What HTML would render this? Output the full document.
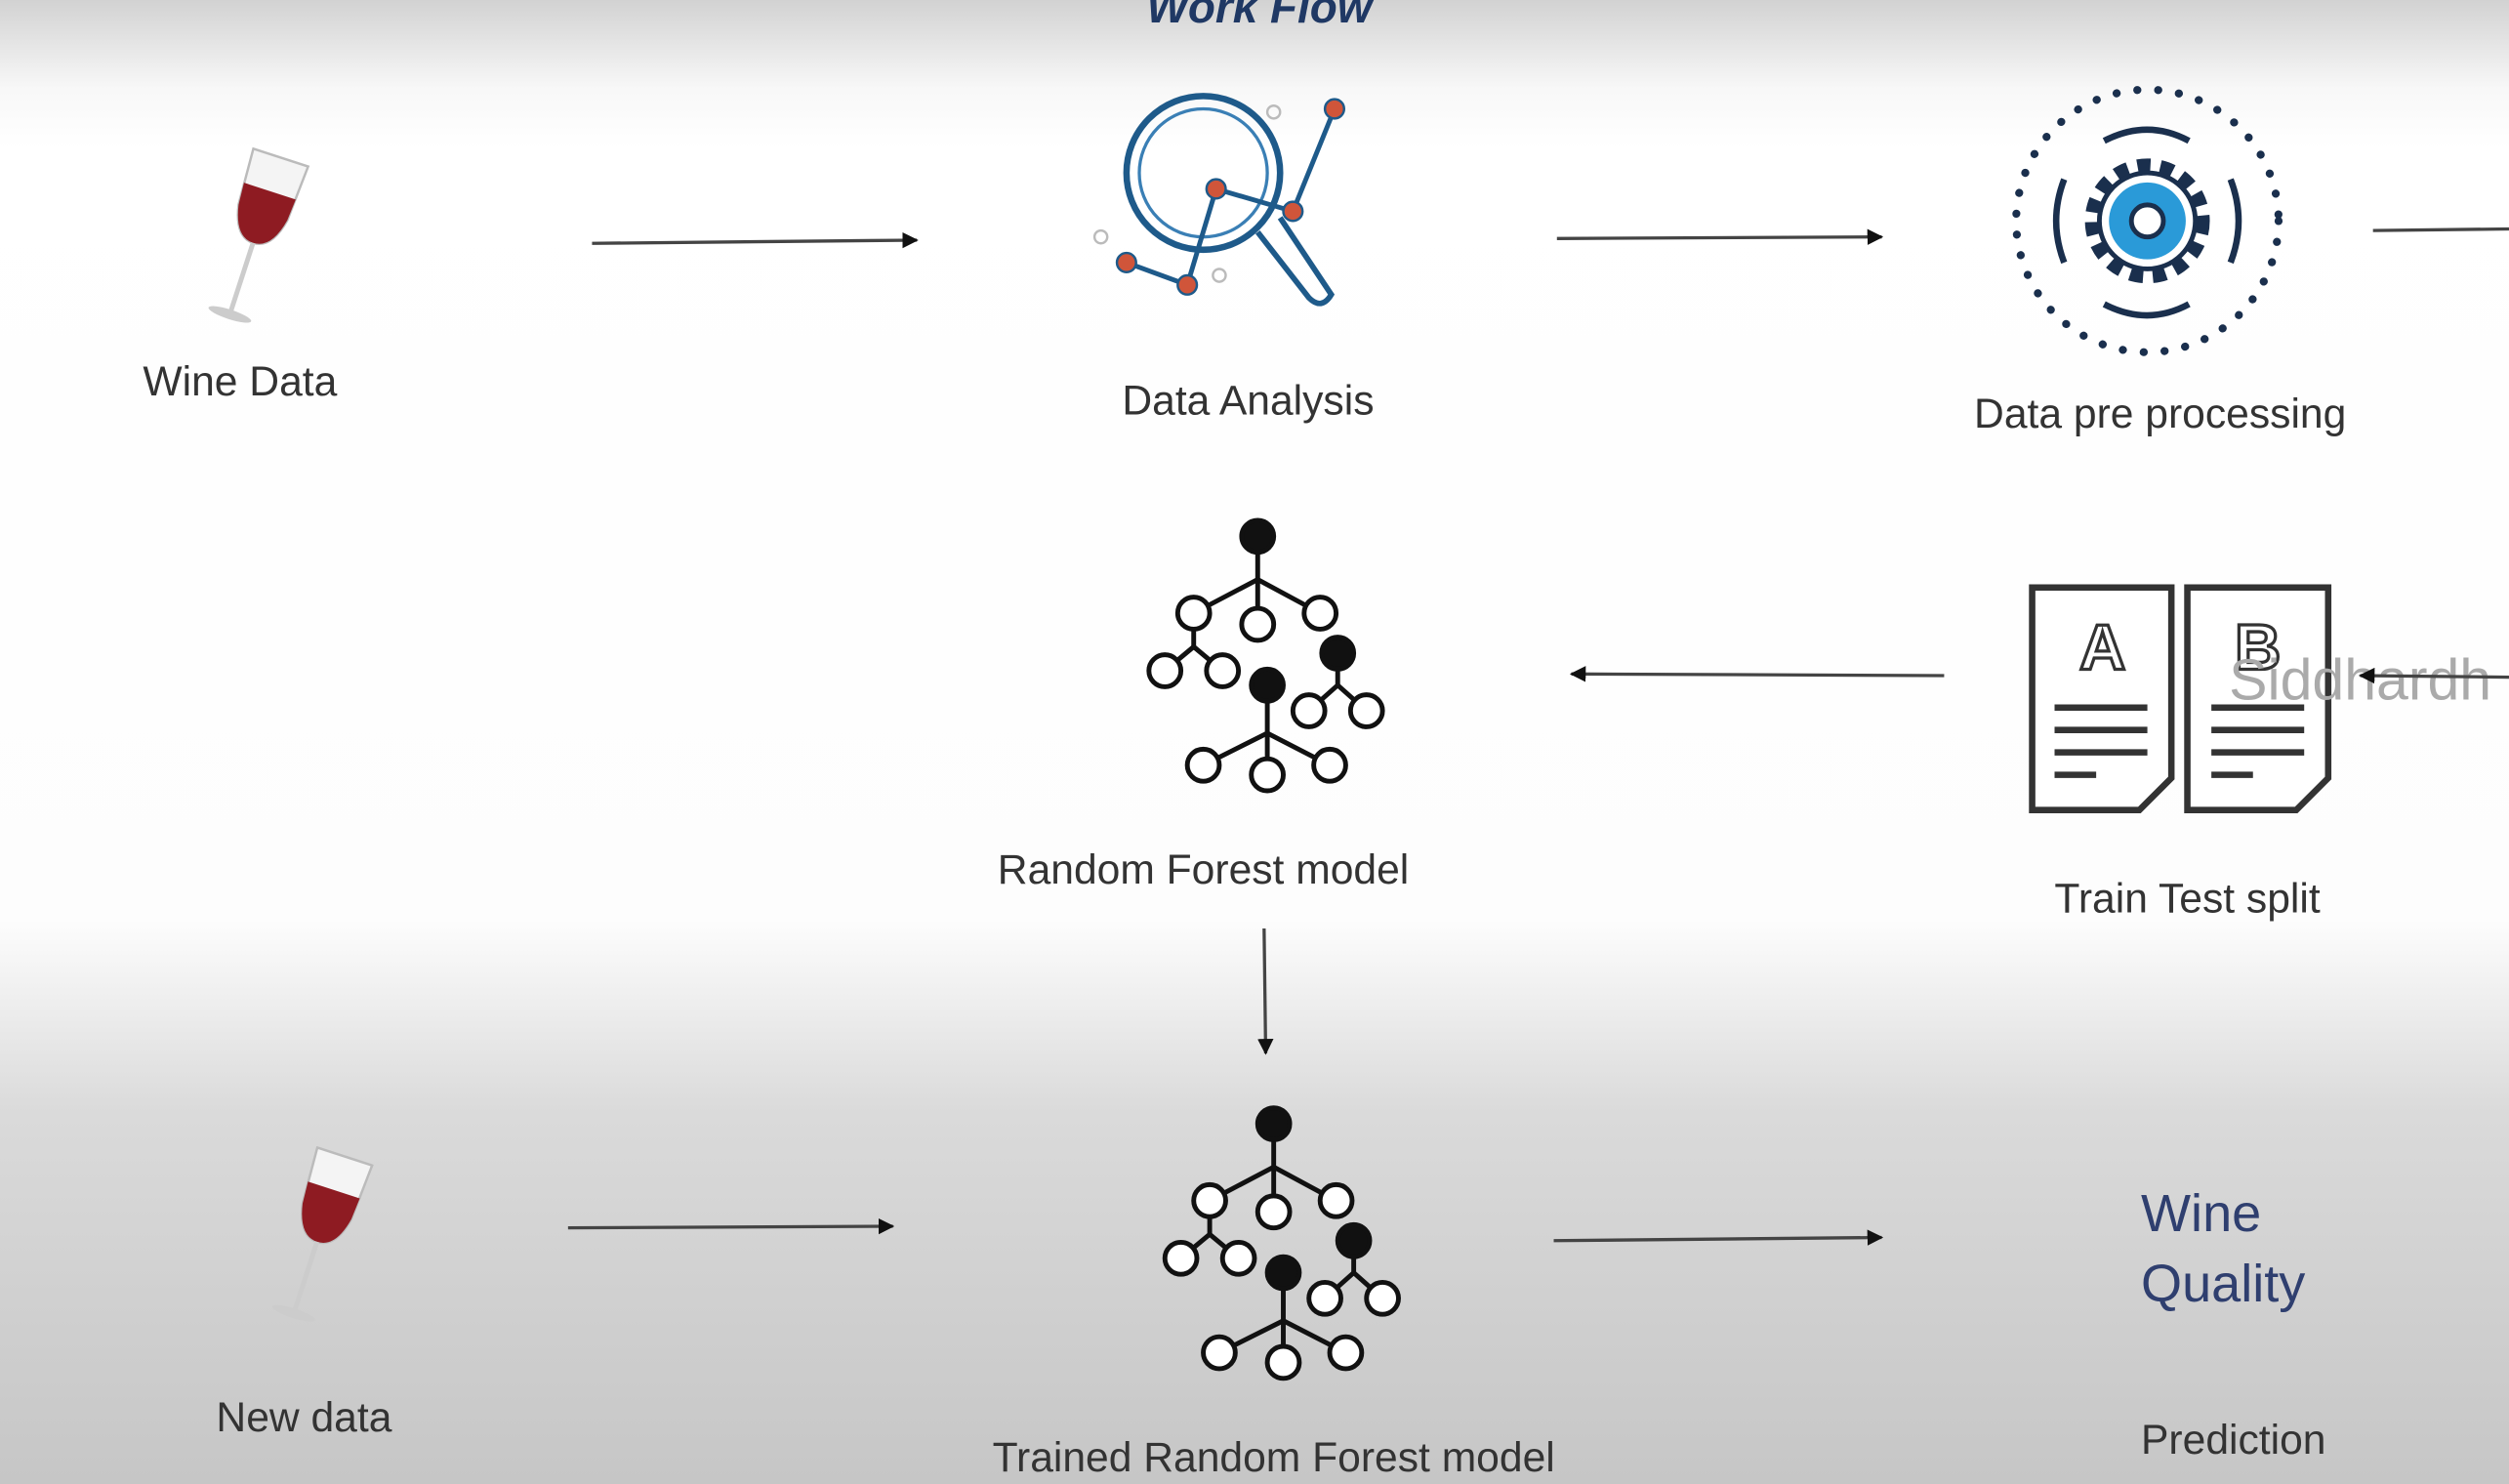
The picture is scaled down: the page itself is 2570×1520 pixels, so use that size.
<!DOCTYPE html>
<html><head><meta charset="utf-8"><style>
html,body{margin:0;padding:0;width:2570px;height:1520px;overflow:hidden}
svg{display:block}
text{font-family:"Liberation Sans",sans-serif}
</style></head><body>
<svg width="2570" height="1520" viewBox="0 0 1568 927" preserveAspectRatio="none" xmlns="http://www.w3.org/2000/svg">
<defs>
<linearGradient id="bg" x1="0" y1="0" x2="0" y2="1">
<stop offset="0" stop-color="#d2d2d2"/>
<stop offset="0.06" stop-color="#f8f8f8"/>
<stop offset="0.1" stop-color="#ffffff"/>
<stop offset="0.62" stop-color="#fdfdfd"/>
<stop offset="0.75" stop-color="#dadada"/>
<stop offset="1" stop-color="#c6c6c6"/>
</linearGradient>
<marker id="ah" viewBox="0 0 10 10" refX="9" refY="5" markerWidth="5" markerHeight="5" orient="auto"><path d="M0,0 L10,5 L0,10 z" fill="#111"/></marker>
<g id="tree" stroke="#111" stroke-width="3" fill="#fff">
<line x1="0" y1="0" x2="0" y2="27"/><line x1="0" y1="27" x2="-40" y2="48"/><line x1="0" y1="27" x2="0" y2="55"/><line x1="0" y1="27" x2="39" y2="48"/>
<line x1="-40" y1="48" x2="-40" y2="69"/><line x1="-40" y1="69" x2="-58" y2="84"/><line x1="-40" y1="69" x2="-22" y2="84"/>
<line x1="50" y1="73" x2="50" y2="93"/><line x1="50" y1="93" x2="32" y2="109"/><line x1="50" y1="93" x2="68" y2="109"/>
<line x1="6" y1="93" x2="6" y2="123"/><line x1="6" y1="123" x2="-34" y2="143"/><line x1="6" y1="123" x2="6" y2="149"/><line x1="6" y1="123" x2="45" y2="143"/>
<circle cx="0" cy="0" r="10" fill="#111"/>
<circle cx="-40" cy="48" r="10"/><circle cx="0" cy="55" r="10"/><circle cx="39" cy="48" r="10"/>
<circle cx="-58" cy="84" r="10"/><circle cx="-22" cy="84" r="10"/>
<circle cx="50" cy="73" r="10" fill="#111"/><circle cx="32" cy="109" r="10"/><circle cx="68" cy="109" r="10"/>
<circle cx="6" cy="93" r="10" fill="#111"/><circle cx="-34" cy="143" r="10"/><circle cx="6" cy="149" r="10"/><circle cx="45" cy="143" r="10"/>
</g>
<g id="glass">
<g transform="rotate(18)">
<path d="M-18,-50 L18,-50 L16,-14 Q12,6 0,6 Q-12,6 -16,-14 Z" fill="#f4f4f4" stroke="#bbb" stroke-width="1.5"/>
<path d="M-17,-28 L17,-28 L16,-14 Q12,6 0,6 Q-12,6 -16,-14 Z" fill="#8e1b22"/>
<line x1="0" y1="6" x2="0" y2="52" stroke="#ccc" stroke-width="3"/>
<ellipse cx="0" cy="53" rx="14" ry="3" fill="#ccc"/>
</g>
</g>
</defs>
<rect x="0" y="0" width="1568" height="927" fill="url(#bg)"/>
<text x="787" y="14" text-anchor="middle" font-size="28" font-weight="bold" font-style="italic" fill="#1f3864">Work Flow</text>

<use href="#glass" x="160" y="146"/>
<text x="150" y="247" text-anchor="middle" font-size="26" fill="#333">Wine Data</text>
<line x1="370" y1="152" x2="573" y2="150" stroke="#444" stroke-width="2" marker-end="url(#ah)"/>

<g fill="none" stroke="#1e5a8a" stroke-width="4">
<circle cx="752" cy="108" r="48"/><circle cx="752" cy="108" r="40" stroke-width="2" stroke="#3a7fb5"/>
<path d="M786,145 L818,186 Q826,194 832,184 L800,136" stroke-width="3.5"/>
</g>
<g stroke="#1e5a8a" stroke-width="3">
<line x1="704" y1="164" x2="742" y2="178"/><line x1="742" y1="178" x2="760" y2="118"/><line x1="760" y1="118" x2="808" y2="132"/><line x1="808" y1="132" x2="834" y2="68"/>
</g>
<g fill="#d0553a" stroke="#1e5a8a" stroke-width="1.5"><circle cx="704" cy="164" r="6"/><circle cx="742" cy="178" r="6"/><circle cx="760" cy="118" r="6"/><circle cx="808" cy="132" r="6"/><circle cx="834" cy="68" r="6"/></g>
<g fill="none" stroke="#bbb" stroke-width="1.5"><circle cx="796" cy="70" r="4"/><circle cx="688" cy="148" r="4"/><circle cx="762" cy="172" r="4"/></g>
<text x="780" y="259" text-anchor="middle" font-size="26" fill="#333">Data Analysis</text>
<line x1="973" y1="149" x2="1176" y2="148" stroke="#444" stroke-width="2" marker-end="url(#ah)"/>

<circle cx="1342" cy="138" r="82" fill="none" stroke="#1a2f4d" stroke-width="5" stroke-dasharray="0.1 13" stroke-linecap="round"/>
<circle cx="1342" cy="138" r="34" fill="none" stroke="#1a2f4d" stroke-width="10" stroke-dasharray="8 6"/>
<circle cx="1342" cy="138" r="30" fill="#fff" stroke="#1a2f4d" stroke-width="3"/>
<circle cx="1342" cy="138" r="24" fill="#2a9ad8"/>
<circle cx="1342" cy="138" r="10" fill="#fff" stroke="#1a2f4d" stroke-width="3"/>
<g fill="none" stroke="#1a2f4d" stroke-width="4">
<path d="M1315,88 Q1342,74 1368,88"/><path d="M1315,190 Q1342,204 1368,190"/>
<path d="M1290,112 Q1280,138 1290,164"/><path d="M1394,112 Q1404,138 1394,164"/>
</g>
<text x="1350" y="267" text-anchor="middle" font-size="26" fill="#333">Data pre processing</text>
<line x1="1483" y1="144" x2="1568" y2="143" stroke="#444" stroke-width="2"/>

<use href="#tree" x="786" y="335"/>
<text x="752" y="552" text-anchor="middle" font-size="26" fill="#333">Random Forest model</text>
<line x1="1215" y1="422" x2="982" y2="421" stroke="#444" stroke-width="2" marker-end="url(#ah)"/>

<g fill="#fff" stroke="#333" stroke-width="4">
<path d="M1270,367 L1357,367 L1357,486 L1337,506 L1270,506 Z"/>
<path d="M1367,367 L1455,367 L1455,486 L1435,506 L1367,506 Z"/>
</g>
<g stroke="#333" stroke-width="4">
<line x1="1284" y1="442" x2="1342" y2="442"/><line x1="1284" y1="456" x2="1342" y2="456"/><line x1="1284" y1="470" x2="1342" y2="470"/><line x1="1284" y1="484" x2="1310" y2="484"/>
<line x1="1382" y1="442" x2="1440" y2="442"/><line x1="1382" y1="456" x2="1440" y2="456"/><line x1="1382" y1="470" x2="1440" y2="470"/><line x1="1382" y1="484" x2="1408" y2="484"/>
</g>
<text x="1314" y="418" text-anchor="middle" font-size="40" font-weight="bold" fill="#fff" stroke="#333" stroke-width="2">A</text>
<text x="1411" y="418" text-anchor="middle" font-size="40" font-weight="bold" fill="#fff" stroke="#333" stroke-width="2">B</text>
<text x="1393" y="437" font-size="36" fill="#aaa">Siddhardh</text>
<line x1="1568" y1="423" x2="1475" y2="422" stroke="#444" stroke-width="2" marker-end="url(#ah)"/>
<text x="1367" y="570" text-anchor="middle" font-size="26" fill="#333">Train Test split</text>

<line x1="790" y1="580" x2="791" y2="658" stroke="#444" stroke-width="2" marker-end="url(#ah)"/>

<use href="#glass" x="200" y="770"/>
<text x="190" y="894" text-anchor="middle" font-size="26" fill="#333">New data</text>
<line x1="355" y1="767" x2="558" y2="766" stroke="#444" stroke-width="2" marker-end="url(#ah)"/>

<use href="#tree" x="796" y="702"/>
<text x="796" y="919" text-anchor="middle" font-size="26" fill="#333">Trained Random Forest model</text>
<line x1="971" y1="775" x2="1176" y2="773" stroke="#444" stroke-width="2" marker-end="url(#ah)"/>

<text x="1338" y="769" font-size="33" fill="#2f3f6f">Wine</text>
<text x="1338" y="813" font-size="33" fill="#2f3f6f">Quality</text>
<text x="1338" y="908" font-size="26" fill="#333">Prediction</text>
</svg>
</body></html>
